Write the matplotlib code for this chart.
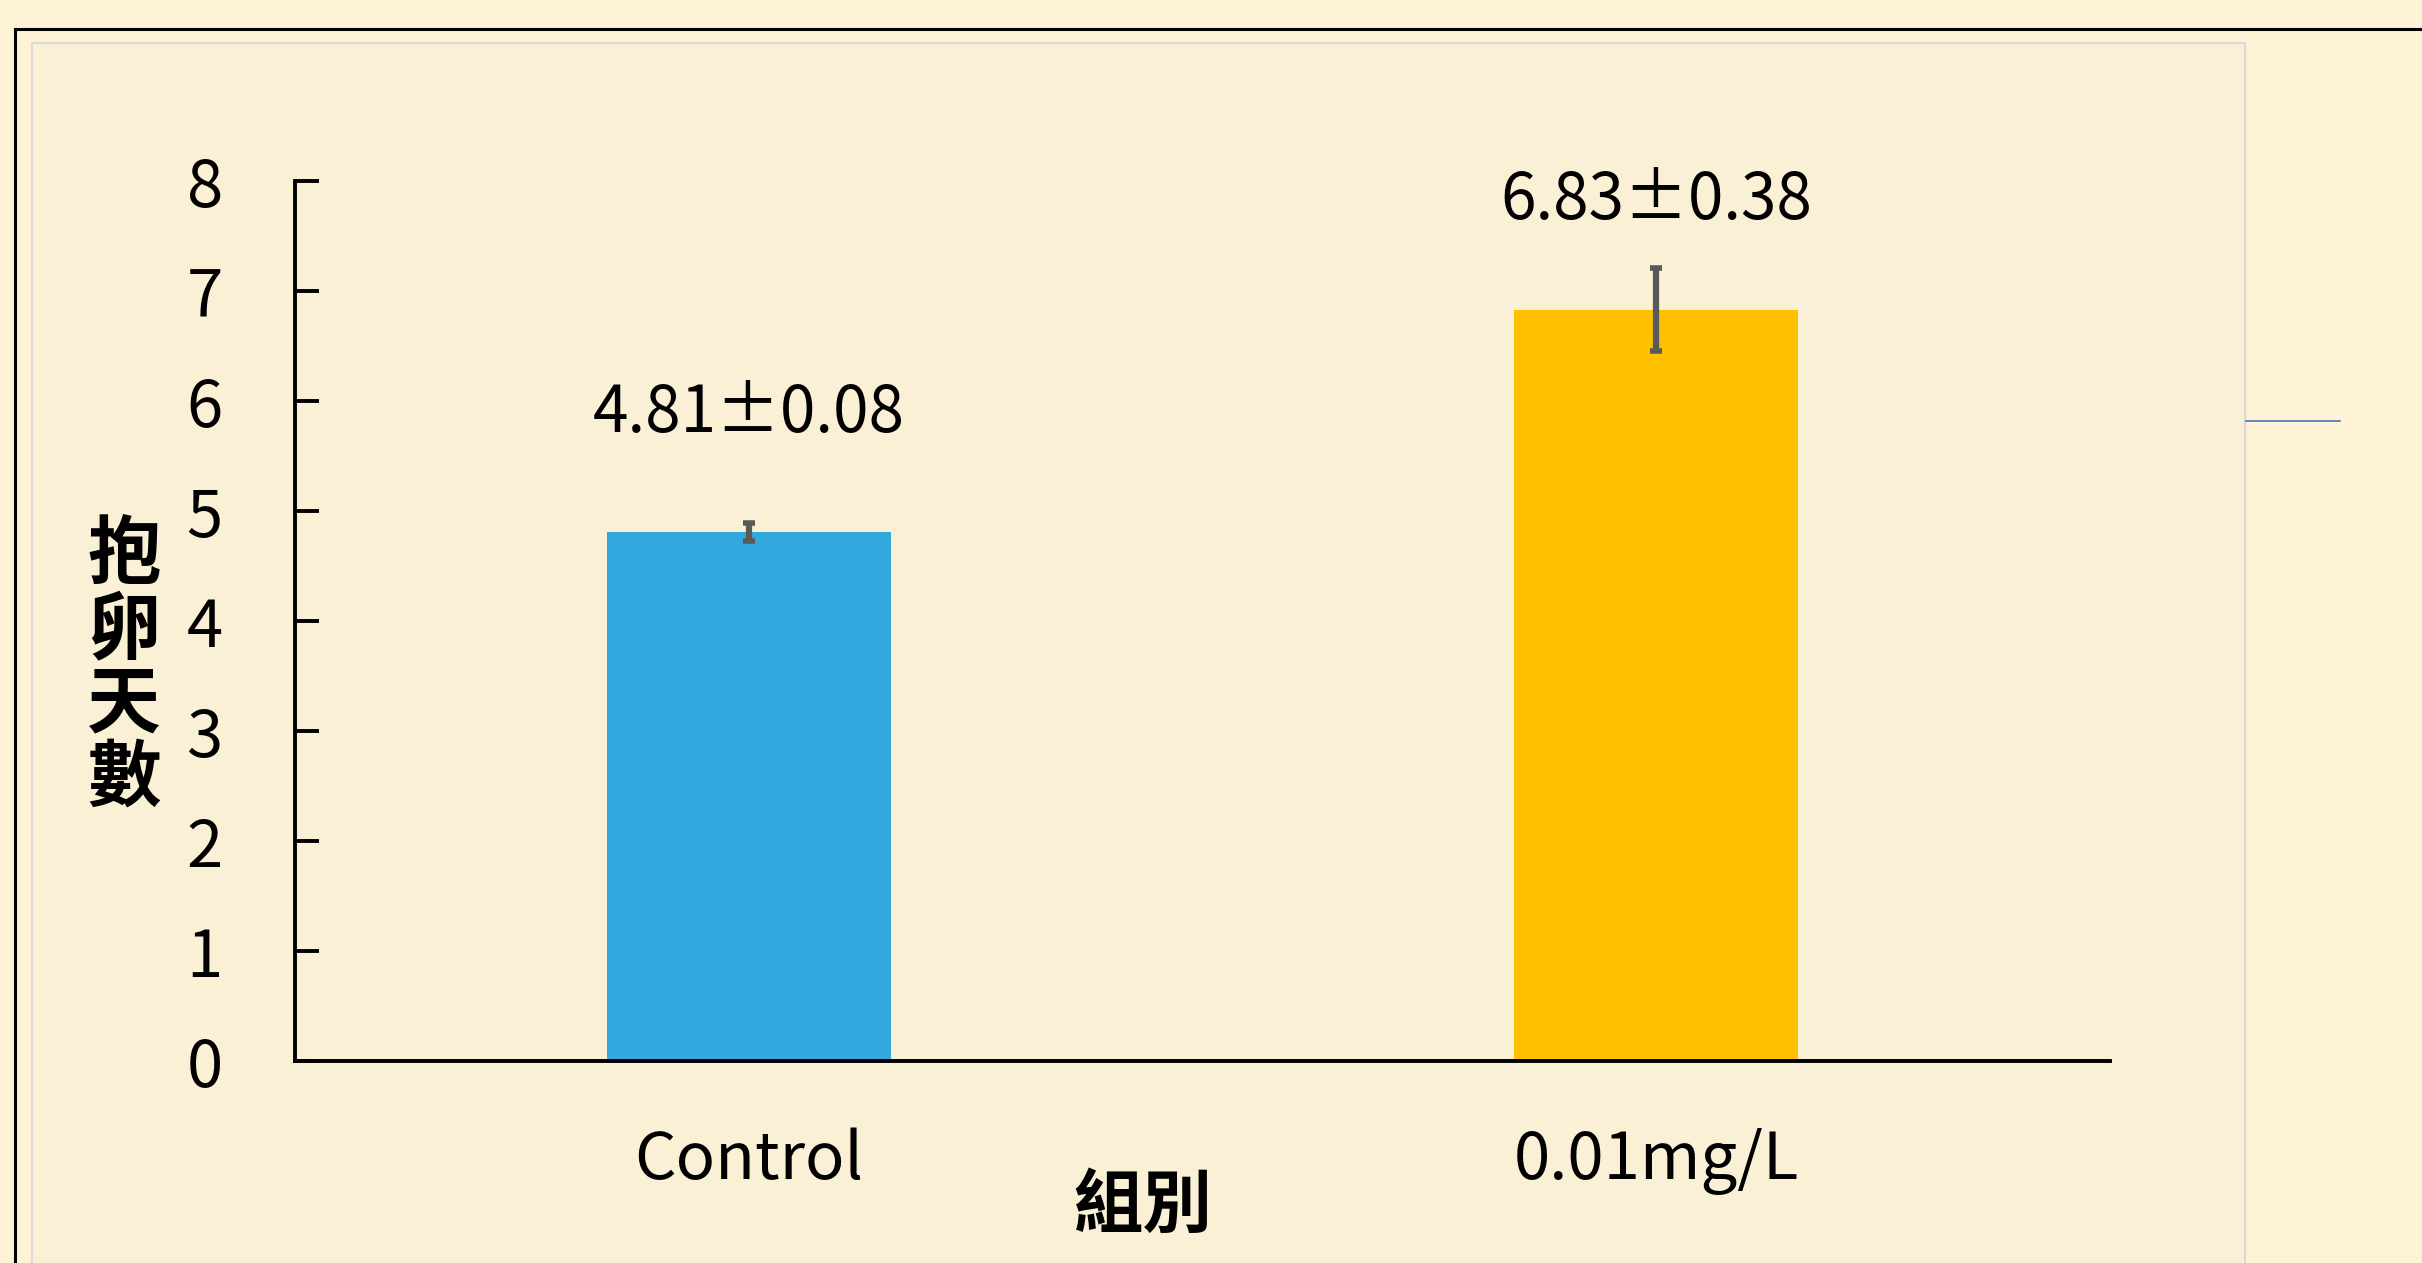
import matplotlib
matplotlib.use('Agg')
import matplotlib.pyplot as plt
from matplotlib.patches import Rectangle
from matplotlib.lines import Line2D

groups = ['Control', '0.01mg/L']
means = [4.81, 6.83]
errs = [0.08, 0.38]
label_y = [5.72, 7.65]
yticks = [0, 1, 2, 3, 4, 5, 6, 7, 8]

plt.rcParams['font.family'] = ['Noto Sans CJK TC', 'DejaVu Sans']

fig = plt.figure(figsize=(24.22, 12.63), dpi=100)
fig.patch.set_facecolor('#FEF3D7')

# inner panel and frame lines
fig.add_artist(Rectangle((0.0132, -0.01), 0.9137, 0.976, transform=fig.transFigure,
                         facecolor='#FAF0D6', edgecolor='#D9D9D9', lw=1.5, zorder=0))
fig.add_artist(Line2D([0.0062, 1.0], [0.977, 0.977], transform=fig.transFigure, color='black', lw=2.2))
fig.add_artist(Line2D([0.0062, 0.0062], [0.0, 0.977], transform=fig.transFigure, color='black', lw=2.2))
fig.add_artist(Line2D([0.9273, 0.9661], [0.6667, 0.6667], transform=fig.transFigure, color='#4472C4', lw=1.2))

ax = fig.add_axes([0.1218, 0.1599, 0.7494, 0.6968])
ax.patch.set_alpha(0.0)
x = range(len(groups))
ax.bar(x, means, width=0.313, color=['#33A8DE', '#FFC000'], zorder=2)
ax.errorbar(x, means, yerr=errs, fmt='none', ecolor='#595959', elinewidth=4.5,
            capsize=4, capthick=4, zorder=3)
for xi, m, e, ly in zip(x, means, errs, label_y):
    ax.text(xi, ly, f'{m:.2f}±{e:.2f}', ha='center', va='baseline', fontsize=46)

ax.set_xlim(-0.5, 1.5)
ax.set_ylim(0, 8)
ax.set_yticks(yticks)
ax.set_xticks(list(x))
ax.set_xticklabels(groups)
for s in ['top', 'right']:
    ax.spines[s].set_visible(False)
for s in ['left', 'bottom']:
    ax.spines[s].set_linewidth(2.8)
ax.tick_params(axis='y', direction='in', length=17, width=2.8, pad=52, labelsize=47)
ax.tick_params(axis='x', length=0, pad=48, labelsize=47)

# axis titles sit where the reference puts them
fig.text(1143 / 2422, 1 - 1207 / 1263, '組別', ha='center', va='center',
         fontsize=50, fontweight='bold')
fig.text(124 / 2422, 1 - 668 / 1263, '抱\n卵\n天\n數', ha='center', va='center',
         fontsize=53, fontweight='bold', linespacing=1.0)

fig.savefig('out.png', dpi=100, facecolor=fig.get_facecolor())
